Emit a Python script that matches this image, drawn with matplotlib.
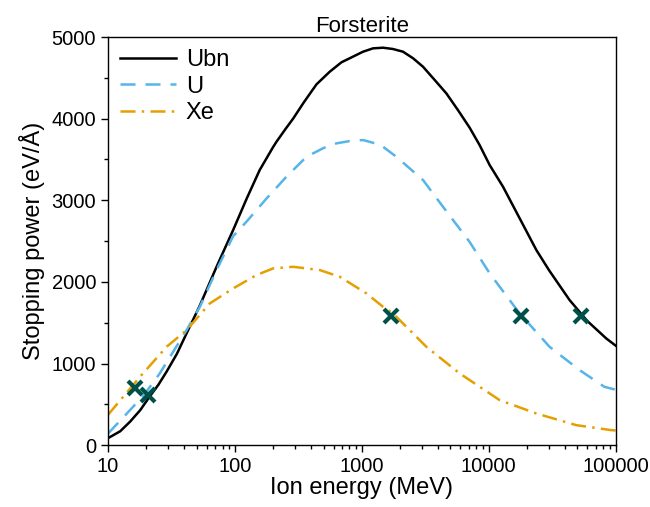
import numpy as np
import matplotlib
matplotlib.use('Agg')
from matplotlib import pyplot as plt
from matplotlib.ticker import LogLocator, NullFormatter, MultipleLocator

plt.rcParams['font.family'] = ['Liberation Sans', 'DejaVu Sans']

# Ubn
e_ubn = [10, 12.5, 15, 18, 21, 25, 29, 35, 41.7, 53, 71.8, 97, 124, 157, 200, 213, 250, 288, 350, 440,
         560, 692, 805, 1024, 1227, 1472, 1762, 2115, 2535, 3040, 3760, 4640, 5730, 7080,
         8490, 10190, 12980, 17000, 23770, 30000, 43450, 60000, 84500, 100000]
s_ubn = [85, 170, 290, 430, 580, 740, 900, 1120, 1370, 1710, 2185, 2635, 3020, 3370, 3650, 3717, 3870, 4000, 4200, 4420,
         4575, 4690, 4740, 4820, 4861, 4869, 4853, 4820, 4740, 4636, 4473, 4310, 4105, 3890,
         3676, 3431, 3166, 2820, 2390, 2140, 1777, 1520, 1307, 1220]

# U
e_u = [10, 15.8, 20, 25.6, 41.7, 53, 71.8, 97, 124, 178, 255, 367, 500, 631, 800, 1024, 1400, 1875, 3040, 4370,
       7080, 10190, 17540, 30200, 52100, 81800, 100000]
s_u = [140, 470, 650, 878, 1409, 1695, 2145, 2560, 2740, 3023, 3288, 3533, 3640, 3697, 3725, 3738, 3680, 3533, 3248, 2920,
       2490, 2104, 1614, 1205, 919, 714, 680]

# Xe
e_xe = [10, 17.9, 29, 41.7, 63.5, 97, 148, 200, 288, 467, 671, 1089, 1472, 1762, 3230, 5910,
        12220, 23770, 49000, 92500, 100000]
s_xe = [370, 837, 1205, 1409, 1736, 1920, 2083, 2165, 2185, 2145, 2063, 1859, 1695, 1614, 1205, 879,
        551, 388, 245, 184, 180]

# marcadores
e_mk = [16.3, 20.8, 1714, 18070, 53700]
s_mk = [695, 613, 1580, 1580, 1580]

fig = plt.figure(figsize=(6.5, 5.07), dpi=100)
ax = fig.add_axes([0.166, 0.122, 0.781, 0.805])

ax.plot(e_ubn, s_ubn, color='black', lw=1.8, label='Ubn')
ax.plot(e_u, s_u, color='#56B4E9', lw=1.8, dashes=(6, 4), label='U')
ax.plot(e_xe, s_xe, color='#E69F00', lw=1.8, dashes=(6, 2.5, 1, 2.5), label='Xe')
ax.plot(e_mk, s_mk, 'x', color='#00504A', ms=10, mew=3, zorder=5)

ax.set_xscale('log')
ax.set_xlim(10, 100000)
ax.set_ylim(0, 5000)
ax.xaxis.set_major_locator(LogLocator(base=10))
ax.xaxis.set_minor_locator(LogLocator(base=10, subs=np.arange(2, 10)))
ax.xaxis.set_minor_formatter(NullFormatter())
ax.set_xticks([10, 100, 1000, 10000, 100000])
ax.set_xticklabels(['10', '100', '1000', '10000', '100000'])
ax.yaxis.set_major_locator(MultipleLocator(1000))
ax.yaxis.set_minor_locator(MultipleLocator(500))

ax.tick_params(which='major', direction='out', length=5, width=1, labelsize=14.5)
ax.tick_params(which='minor', direction='out', length=3, width=1)
for sp in ax.spines.values():
    sp.set_linewidth(1)

ax.set_title('Forsterite', fontsize=16, pad=3)
ax.set_xlabel('Ion energy (MeV)', fontsize=17, labelpad=1)
ax.set_ylabel('Stopping power (eV/Å)', fontsize=17, labelpad=5)
ax.legend(loc='upper left', frameon=False, fontsize=17, handlelength=2.4,
          borderaxespad=0.2, borderpad=0.3, labelspacing=0.2, handletextpad=0.4)

fig.savefig('out.png', dpi=100)
